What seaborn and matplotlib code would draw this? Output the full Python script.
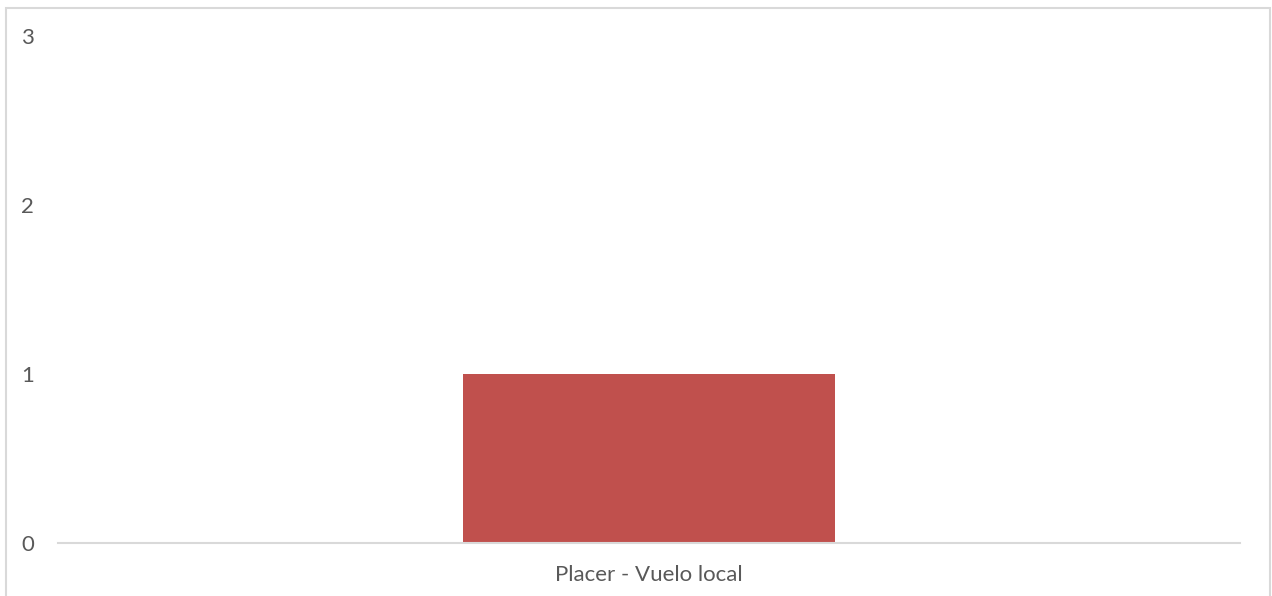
import matplotlib
matplotlib.use("Agg")
import matplotlib.pyplot as plt
import seaborn as sns
import pandas as pd
from matplotlib.patches import Rectangle

categories = ["Placer - Vuelo local"]
values = [1]
yticks = [0, 1, 2, 3]

sns.set_style("white")
plt.rcParams['font.family'] = ['Lato', 'DejaVu Sans']

fig = plt.figure(figsize=(12.72, 5.96), dpi=100)
ax = fig.add_axes([58/1272, 53/596, (1240-58)/1272, (543-36)/596])

df = pd.DataFrame({"cat": categories, "val": values})
sns.barplot(data=df, x="cat", y="val", color="#C0504D", width=0.314, ax=ax,
            saturation=1, edgecolor="none")

ax.set_xlim(-0.5, 0.5)
ax.set_ylim(0, 3)
ax.set_yticks(yticks)
ax.set_yticklabels([str(t) for t in yticks])
ax.set_xlabel("")
ax.set_ylabel("")
for s in ["top", "right", "left"]:
    ax.spines[s].set_visible(False)
ax.spines["bottom"].set_color("#D9D9D9")
ax.spines["bottom"].set_linewidth(1.5)
ax.tick_params(axis="y", length=0, pad=26.5, labelsize=16, labelcolor="#595959")
ax.tick_params(axis="x", length=0, pad=16, labelsize=16, labelcolor="#595959")
for lbl in ax.get_yticklabels():
    lbl.set_horizontalalignment("left")

border = Rectangle((6/1272, -0.05), (1270-6)/1272, (596-8)/596 + 0.05,
                   transform=fig.transFigure, fill=False,
                   edgecolor="#D9D9D9", linewidth=1.5, clip_on=False)
fig.patches.append(border)

fig.savefig("out.png", dpi=100)
